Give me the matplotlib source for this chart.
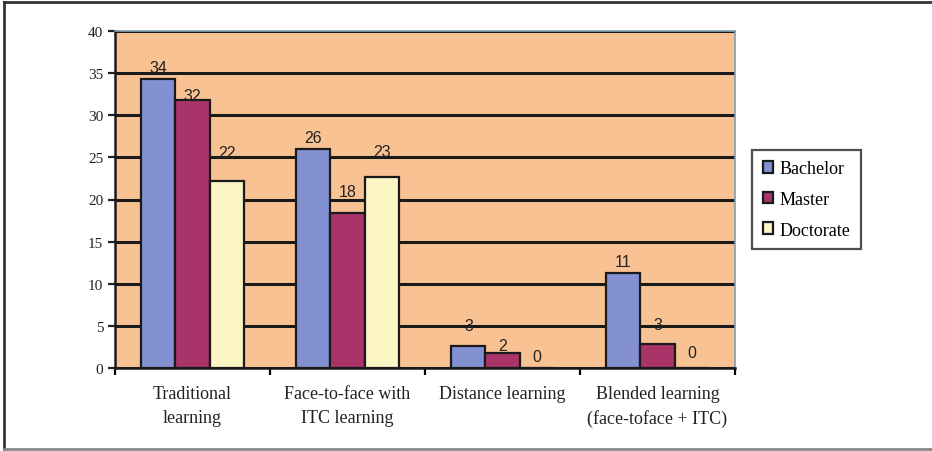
import numpy as np
import matplotlib
matplotlib.use("Agg")
import matplotlib.pyplot as plt
from matplotlib.lines import Line2D

categories = ["Traditional\nlearning", "Face-to-face with\nITC learning",
              "Distance learning", "Blended learning\n(face-toface + ITC)"]
series = ["Bachelor", "Master", "Doctorate"]
bachelor = [34.3, 26.0, 2.6, 11.3]
master = [31.8, 18.4, 1.8, 2.9]
doctorate = [22.2, 22.7, 0, 0]
bachelor_lbl = ["34", "26", "3", "11"]
master_lbl = ["32", "18", "2", "3"]
doctorate_lbl = ["22", "23", "0", "0"]
# label lift above the bar top (data units), as placed in the original
bachelor_dy = [1.4, 1.4, 2.4, 1.3]
master_dy = [0.5, 2.5, 0.9, 2.3]
doctorate_dy = [3.4, 3.0, 1.4, 1.8]

colors = ["#8391D2", "#A83469", "#FCF5C4"]
bg = "#F9C293"

fig = plt.figure(figsize=(9.32, 4.52), dpi=100)
ax = fig.add_axes([115 / 932, 1 - 369 / 452, 620 / 932, 337 / 452])
ax.set_facecolor(bg)

x = np.arange(len(categories))
w = 0.22
data = [bachelor, master, doctorate]
labels = [bachelor_lbl, master_lbl, doctorate_lbl]
lifts = [bachelor_dy, master_dy, doctorate_dy]
for i, (vals, lbls, dys) in enumerate(zip(data, labels, lifts)):
    pos = x + (i - 1) * w
    ax.bar(pos, vals, w, color=colors[i], edgecolor="#1a1a1a", linewidth=1.6,
           label=series[i], zorder=3)
    for p, v, t, d in zip(pos, vals, lbls, dys):
        ax.text(p, v + d, t, ha="center", va="center",
                fontsize=11.5, family="Liberation Sans", color="#222222", zorder=4)

ax.set_xlim(-0.5, 3.5)
ax.set_ylim(0, 40)
ax.set_yticks(range(0, 41, 5))
ax.set_xticks(np.arange(-0.5, 4, 1), minor=False)
ax.set_xticklabels([])
ax.set_xticks(x, minor=True)
ax.set_xticklabels(categories, minor=True, family="Liberation Serif", fontsize=13,
                   color="#222222", linespacing=1.55)
ax.tick_params(axis="x", which="minor", length=0, pad=12)
ax.tick_params(axis="x", which="major", length=5, width=1.6, direction="out")
ax.tick_params(axis="y", length=5, width=1.6, labelsize=11, colors="#222222")
for lab in ax.get_yticklabels():
    lab.set_family("Liberation Serif")
ax.yaxis.grid(True, color="#1a1a1a", linewidth=2.2)
ax.set_axisbelow(True)
for s in ["left", "bottom"]:
    ax.spines[s].set_linewidth(1.8)
    ax.spines[s].set_color("#1a1a1a")
for s in ["top", "right"]:
    ax.spines[s].set_linewidth(1.2)
    ax.spines[s].set_color("#7f9fae")

leg = ax.legend(loc="center left", bbox_to_anchor=(1.027, 0.5), frameon=True,
                fancybox=False, edgecolor="#222222", handlelength=0.6,
                handleheight=0.6, handletextpad=0.35, labelspacing=0.75,
                borderpad=0.6, borderaxespad=0,
                prop={"family": "Liberation Serif", "size": 13})
leg.get_frame().set_linewidth(1.6)

# outer frame
fig.add_artist(Line2D([4 / 932, 1], [1 - 3 / 452] * 2, color="#333333", lw=2))
fig.add_artist(Line2D([4 / 932] * 2, [1 - 3 / 452, 1 - 450 / 452], color="#333333", lw=2))
fig.add_artist(Line2D([4 / 932, 1], [1 - 450 / 452] * 2, color="#888888", lw=2))

fig.savefig("out.png", dpi=100)
